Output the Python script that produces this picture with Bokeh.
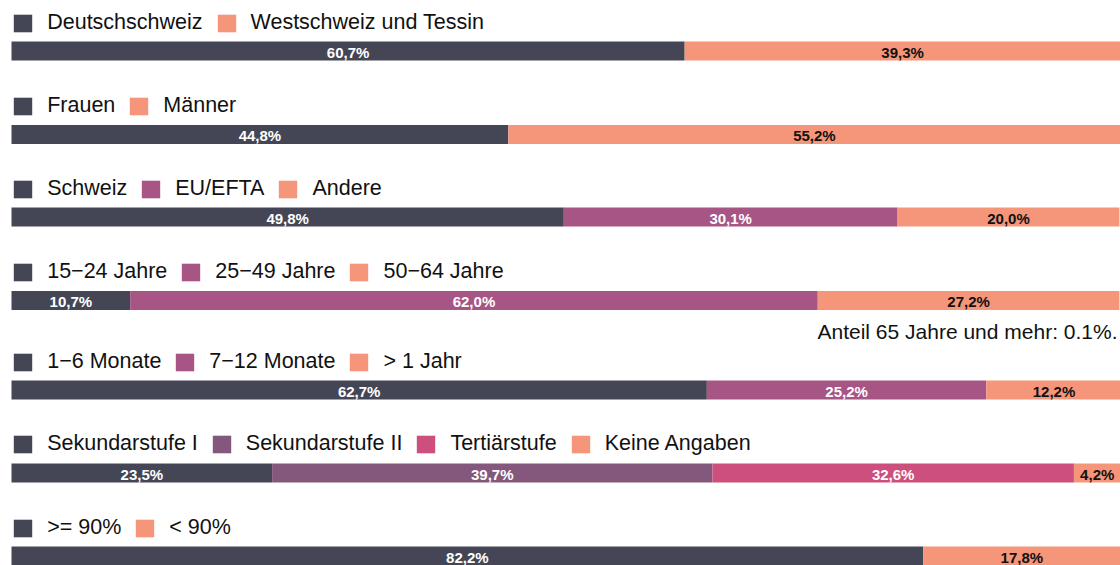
from bokeh.plotting import figure
from bokeh.models import ColumnDataSource, Legend, LegendItem, Range1d, Label
from bokeh.core.properties import value
from bokeh.embed import file_html
from bokeh.resources import INLINE

# ---- data ----
region_labels = ["Deutschschweiz", "Westschweiz und Tessin"]
region_values = [60.7, 39.3]
sex_labels = ["Frauen", "Männer"]
sex_values = [44.8, 55.2]
nation_labels = ["Schweiz", "EU/EFTA", "Andere"]
nation_values = [49.8, 30.1, 20.0]
age_labels = ["15\u221224 Jahre", "25\u221249 Jahre", "50\u221264 Jahre"]
age_values = [10.7, 62.0, 27.2]
duration_labels = ["1\u22126 Monate", "7\u221212 Monate", "> 1 Jahr"]
duration_values = [62.7, 25.2, 12.2]
edu_labels = ["Sekundarstufe I", "Sekundarstufe II", "Tertiärstufe", "Keine Angaben"]
edu_values = [23.5, 39.7, 32.6, 4.2]
rate_labels = [">= 90%", "< 90%"]
rate_values = [82.2, 17.8]
note_text = "Anteil 65 Jahre und mehr: 0.1%."

# ---- styles / layout ----
DARK = "#444656"
SALMON = "#f5957a"
MAUVE = "#a65584"
PURPLE = "#84587c"
PINK = "#cc4f7d"

groups = [
    (region_labels, region_values, [DARK, SALMON]),
    (sex_labels, sex_values, [DARK, SALMON]),
    (nation_labels, nation_values, [DARK, MAUVE, SALMON]),
    (age_labels, age_values, [DARK, MAUVE, SALMON]),
    (duration_labels, duration_values, [DARK, MAUVE, SALMON]),
    (edu_labels, edu_values, [DARK, PURPLE, PINK, SALMON]),
    (rate_labels, rate_values, [DARK, SALMON]),
]
bar_rows = [50.5, 134, 216.5, 300, 389.5, 472.5, 555.5]
legend_rows = [24, 107, 190, 273, 363, 445, 529]
W, H = 1120, 565
BAR_LEFT_PX = 11

x0 = -BAR_LEFT_PX * 100.0 / (W - BAR_LEFT_PX)
p = figure(width=W, height=H, x_range=Range1d(x0, 100.0), y_range=Range1d(H, 0),
           toolbar_location=None, output_backend="svg", min_border=0,
           x_axis_location=None, y_axis_location=None)
p.grid.visible = False
p.outline_line_color = None
p.background_fill_color = "white"
p.border_fill_color = "white"

for (labels, vals, cols), yb, yl in zip(groups, bar_rows, legend_rows):
    lefts, rights = [], []
    acc = 0.0
    for v in vals:
        lefts.append(acc)
        acc += v
        rights.append(acc)
    centers = [(l + r) / 2 for l, r in zip(lefts, rights)]
    texts = [f"{v:.1f}".replace(".", ",") + "%" for v in vals]
    tcols = ["#111111" if c == SALMON else "white" for c in cols]
    src = ColumnDataSource(dict(y=[yb] * len(vals), left=lefts, right=rights,
                                color=cols, cx=centers, txt=texts, tc=tcols))
    r = p.hbar(y="y", left="left", right="right", height=19, fill_color="color",
               line_color=None, source=src)
    p.text(x="cx", y="y", text="txt", text_color="tc", source=src,
           text_align="center", text_baseline="middle", y_offset=1,
           text_font=value("Liberation Sans"), text_font_style="bold",
           text_font_size="15px")
    items = [LegendItem(label=value(lab), renderers=[r], index=i) for i, lab in enumerate(labels)]
    leg = Legend(items=items, location=(11.2, H - (yl + 11)), orientation="horizontal",
                 glyph_width=23, glyph_height=22, label_standoff=13, spacing=12,
                 padding=0, margin=0, border_line_alpha=0, background_fill_alpha=0,
                 label_text_font="Liberation Sans", label_text_font_size="21.5px",
                 label_height=22, label_text_color="#111111")
    p.add_layout(leg, "center")

p.add_layout(Label(x=100, y=331, x_offset=-3, text=note_text, text_align="right",
                   text_baseline="middle", text_font="Liberation Sans",
                   text_font_size="21px", text_color="#111111"))

open("out.html", "w").write(file_html(p, INLINE))
